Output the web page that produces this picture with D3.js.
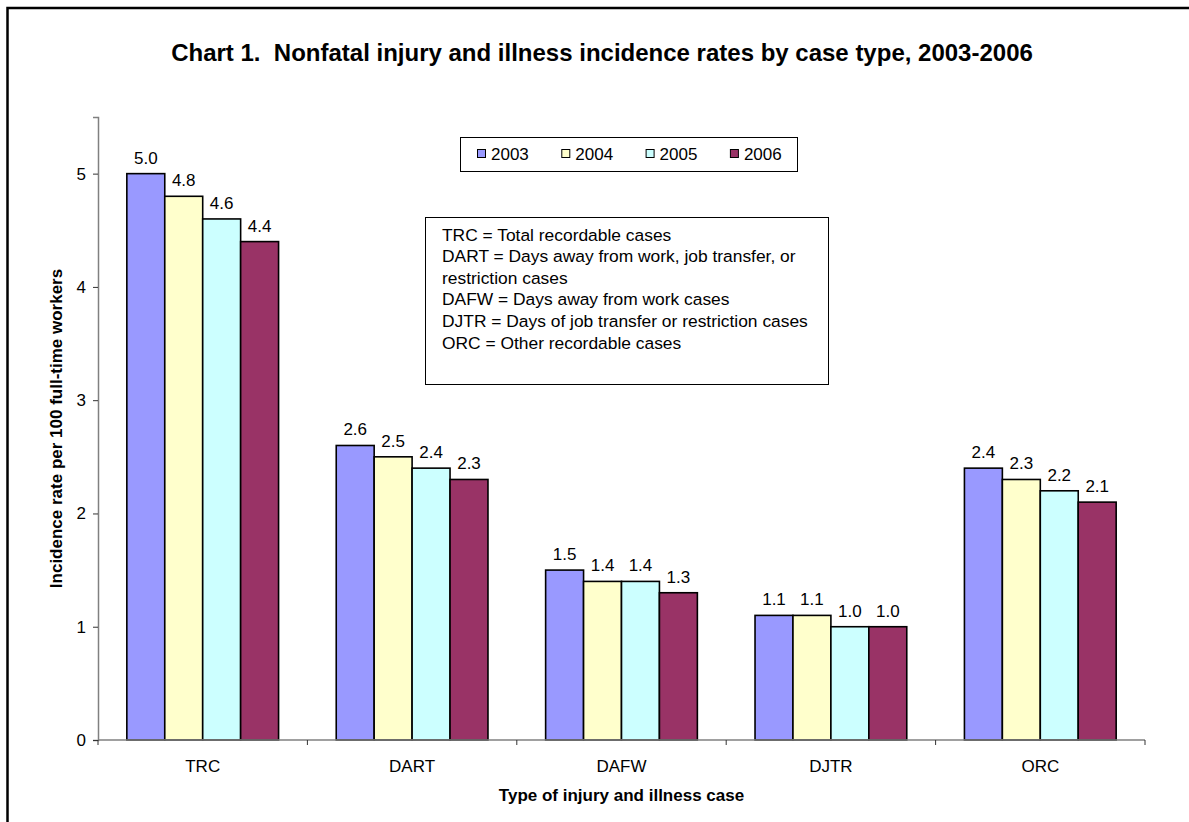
<!DOCTYPE html>
<html>
<head>
<meta charset="utf-8">
<script src="https://cdn.jsdelivr.net/npm/d3@7"></script>
<style>
    body { margin: 0; background: #fff; }
    svg { display: block; font-family: "Liberation Sans", Arial, sans-serif; }
    .title { white-space: pre; }
</style>
</head>
<body>
<div id="chart"></div>
<script>
"use strict";

var caseTypes = ["TRC", "DART", "DAFW", "DJTR", "ORC"];
var years = ["2003", "2004", "2005", "2006"];
var rates2003 = [5.0, 2.6, 1.5, 1.1, 2.4];
var rates2004 = [4.8, 2.5, 1.4, 1.1, 2.3];
var rates2005 = [4.6, 2.4, 1.4, 1.0, 2.2];
var rates2006 = [4.4, 2.3, 1.3, 1.0, 2.1];
var yTicks = [0, 1, 2, 3, 4, 5];
var noteLines = [
    "TRC = Total recordable cases",
    "DART = Days away from work, job transfer, or",
    "restriction cases",
    "DAFW = Days away from work cases",
    "DJTR = Days of job transfer or restriction cases",
    "ORC = Other recordable cases"
];

var seriesColors = ["#9999FF", "#FFFFCC", "#CCFFFF", "#993366"];
var allRates = [rates2003, rates2004, rates2005, rates2006];

var W = 1189, H = 822,
    plotLeft = 98, plotRight = 1145, plotTop = 117, plotBottom = 740;

var svg = d3.select("#chart")
    .append("svg")
    .attr("width", W)
    .attr("height", H);

// outer frame (right and bottom edges run off the picture)
svg.append("rect")
    .attr("x", 7.5)
    .attr("y", 8)
    .attr("width", 1300)
    .attr("height", 1000)
    .attr("fill", "#fff")
    .attr("stroke", "#000")
    .attr("stroke-width", 2.5);

svg.append("text")
    .attr("class", "title")
    .attr("x", 602)
    .attr("y", 61)
    .attr("text-anchor", "middle")
    .attr("font-size", 24)
    .attr("font-weight", "bold")
    .text("Chart 1.  Nonfatal injury and illness incidence rates by case type, 2003-2006");

var x0 = d3.scaleBand()
    .domain(caseTypes)
    .range([plotLeft, plotRight])
    .padding(0);

var x1 = d3.scaleBand()
    .domain(years)
    .range([0, x0.bandwidth()])
    .paddingInner(0)
    .paddingOuter(0.76);

var y = d3.scaleLinear()
    .domain([0, 5.5])
    .range([plotBottom, plotTop]);

// bars
var groups = svg.selectAll("g.series")
    .data(years)
    .enter()
    .append("g")
    .attr("class", "series");

groups.selectAll("rect")
    .data(function (yr, i) {
        return caseTypes.map(function (c, j) {
            return { cat: c, year: yr, value: allRates[i][j], color: seriesColors[i] };
        });
    })
    .enter()
    .append("rect")
    .attr("x", function (d) { return x0(d.cat) + x1(d.year); })
    .attr("y", function (d) { return y(d.value); })
    .attr("width", x1.bandwidth())
    .attr("height", function (d) { return y(0) - y(d.value); })
    .attr("fill", function (d) { return d.color; })
    .attr("stroke", "#000")
    .attr("stroke-width", 1.6);

groups.selectAll("text")
    .data(function (yr, i) {
        return caseTypes.map(function (c, j) {
            return { cat: c, year: yr, value: allRates[i][j] };
        });
    })
    .enter()
    .append("text")
    .attr("x", function (d) { return x0(d.cat) + x1(d.year) + x1.bandwidth() / 2; })
    .attr("y", function (d) { return y(d.value) - 10; })
    .attr("text-anchor", "middle")
    .attr("font-size", 17)
    .text(function (d) { return d.value.toFixed(1); });

// y axis
var yAxis = svg.append("g")
    .attr("transform", "translate(" + plotLeft + ",0)")
    .call(d3.axisLeft(y).tickValues(yTicks).tickSize(5).tickPadding(7).tickFormat(d3.format("d")));
yAxis.select(".domain").attr("stroke", "#808080").attr("stroke-width", 1.5);
yAxis.selectAll(".tick line").attr("stroke", "#333");
yAxis.selectAll(".tick text")
    .attr("font-size", 17)
    .attr("font-family", "\"Liberation Sans\", Arial, sans-serif")
    .attr("fill", "#000");

// x axis: ticks sit on the category boundaries
var bounds = caseTypes.map(function (c) { return x0(c); }).concat([plotRight]);
svg.append("line")
    .attr("x1", plotLeft)
    .attr("x2", plotRight)
    .attr("y1", plotBottom)
    .attr("y2", plotBottom)
    .attr("stroke", "#808080")
    .attr("stroke-width", 1.5);
svg.selectAll("line.xtick")
    .data(bounds)
    .enter()
    .append("line")
    .attr("class", "xtick")
    .attr("x1", function (d) { return d; })
    .attr("x2", function (d) { return d; })
    .attr("y1", plotBottom)
    .attr("y2", plotBottom + 5)
    .attr("stroke", "#333");
svg.selectAll("text.xlabel")
    .data(caseTypes)
    .enter()
    .append("text")
    .attr("class", "xlabel")
    .attr("x", function (d) { return x0(d) + x0.bandwidth() / 2; })
    .attr("y", 772)
    .attr("text-anchor", "middle")
    .attr("font-size", 17)
    .text(function (d) { return d; });

// axis titles
svg.append("text")
    .attr("x", (plotLeft + plotRight) / 2)
    .attr("y", 801)
    .attr("text-anchor", "middle")
    .attr("font-size", 17)
    .attr("font-weight", "bold")
    .text("Type of injury and illness case");

svg.append("text")
    .attr("transform", "translate(62," + ((plotTop + plotBottom) / 2) + ") rotate(-90)")
    .attr("text-anchor", "middle")
    .attr("font-size", 17)
    .attr("font-weight", "bold")
    .text("Incidence rate per 100 full-time workers");

// legend
var legend = svg.append("g");
legend.append("rect")
    .attr("x", 460.5)
    .attr("y", 137.5)
    .attr("width", 337)
    .attr("height", 34)
    .attr("fill", "#fff")
    .attr("stroke", "#000");

var items = legend.selectAll("g.item")
    .data(years)
    .enter()
    .append("g")
    .attr("class", "item")
    .attr("transform", function (d, i) { return "translate(" + (477 + i * 84.3) + ",149)"; });
items.append("rect")
    .attr("x", 0.5)
    .attr("y", 0.5)
    .attr("width", 8)
    .attr("height", 8)
    .attr("fill", function (d, i) { return seriesColors[i]; })
    .attr("stroke", "#000");
items.append("text")
    .attr("x", 14)
    .attr("y", 10.5)
    .attr("font-size", 17)
    .text(function (d) { return d; });

// abbreviations note
svg.append("rect")
    .attr("x", 425.5)
    .attr("y", 217.5)
    .attr("width", 403)
    .attr("height", 167)
    .attr("fill", "#fff")
    .attr("stroke", "#000");

svg.selectAll("text.note")
    .data(noteLines)
    .enter()
    .append("text")
    .attr("class", "note")
    .attr("x", 442)
    .attr("y", function (d, i) { return 240.5 + i * 21.6; })
    .attr("font-size", 17.4)
    .text(function (d) { return d; });
</script>
</body>
</html>
